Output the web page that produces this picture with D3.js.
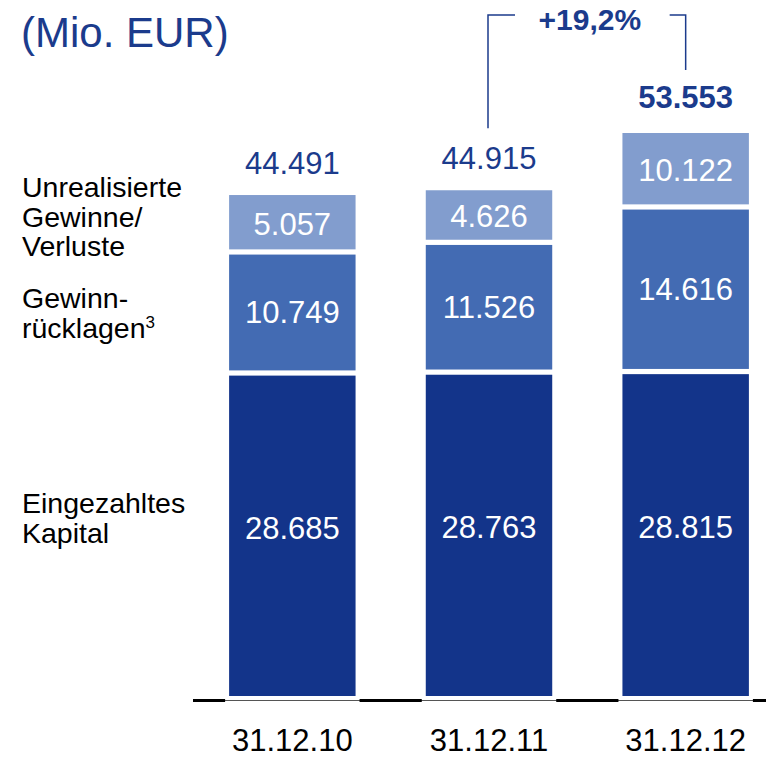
<!DOCTYPE html>
<html>
<head>
<meta charset="utf-8">
<script src="https://cdn.jsdelivr.net/npm/d3@7"></script>
<style>
  body { margin: 0; background: #fff; }
  text { font-family: "Liberation Sans", Arial, sans-serif; }
</style>
</head>
<body>
<div id="chart"></div>
<script>
// data
var dates = ["31.12.10", "31.12.11", "31.12.12"];
var eingezahlt = [28685, 28763, 28815];
var gewinnruecklagen = [10749, 11526, 14616];
var unrealisiert = [5057, 4626, 10122];
var totals = [44491, 44915, 53553];
var growthLabel = "+19,2%";
var seriesKeys = ["eingezahlt", "ruecklagen", "unrealisiert"];

function init(){

    var w = 766;
    var h = 758;
    var dark = "#13348a";
    var mid = "#436bb3";
    var light = "#829dce";
    var textBlue = "#1b3b8c";

    var rows = dates.map(function(d, i){
        return { date: d, eingezahlt: eingezahlt[i], ruecklagen: gewinnruecklagen[i], unrealisiert: unrealisiert[i], total: totals[i] };
    });

    var stack = d3.stack().keys(seriesKeys);
    var series = stack(rows);

    var x = d3.scaleBand()
              .domain(dates)
              .range([194, 784])
              .paddingInner(0.357)
              .paddingOuter(0.1785);

    // upper part of the value axis is compressed, like in the original
    var y = d3.scaleLinear()
              .domain([0, 45000, 53553])
              .range([696, 189.3, 133]);

    var color = d3.scaleOrdinal()
                  .domain(seriesKeys)
                  .range([dark, mid, light]);

    var svg = d3.select("#chart")
                .append("svg")
                .attr("width", w)
                .attr("height", h);

    // unit title
    svg.append("text")
       .attr("x", 21)
       .attr("y", 47)
       .attr("fill", textBlue)
       .style("font-size", "42px")
       .text("(Mio. EUR)");

    // baseline: thin line under bars, thick black in the gaps
    var axisY = 700.5;
    svg.append("line")
       .attr("x1", 193).attr("x2", 766)
       .attr("y1", axisY).attr("y2", axisY)
       .attr("stroke", "#555").attr("stroke-width", 1);

    var gaps = [];
    var prev = 193;
    dates.forEach(function(d){
        gaps.push([prev, x(d) - 4]);
        prev = x(d) + x.bandwidth() + 4;
    });
    gaps.push([prev, 766]);

    svg.selectAll("line.gap")
       .data(gaps)
       .enter()
       .append("line")
       .attr("class", "gap")
       .attr("x1", function(d){ return d[0]; })
       .attr("x2", function(d){ return d[1]; })
       .attr("y1", axisY).attr("y2", axisY)
       .attr("stroke", "#000").attr("stroke-width", 3);

    var inset = 2.6;

    var groups = svg.selectAll("g.series")
                    .data(series)
                    .enter()
                    .append("g")
                    .attr("class", "series")
                    .attr("fill", function(d){ return color(d.key); });

    groups.selectAll("rect")
          .data(function(d){ return d; })
          .enter()
          .append("rect")
          .attr("x", function(d){ return x(d.data.date); })
          .attr("width", x.bandwidth())
          .attr("y", function(d){
              var top = y(d[1]);
              return d[1] < d.data.total ? top + inset : top;
          })
          .attr("height", function(d){
              var top = d[1] < d.data.total ? y(d[1]) + inset : y(d[1]);
              var bottom = d[0] > 0 ? y(d[0]) - inset : y(d[0]);
              return bottom - top;
          });

    var fmt = function(v){ return d3.format(",")(v).replace(/,/g, "."); };

    groups.selectAll("text")
          .data(function(d){ return d.map(function(p){ p.key = d.key; return p; }); })
          .enter()
          .append("text")
          .attr("x", function(d){ return x(d.data.date) + x.bandwidth() / 2; })
          .attr("y", function(d){
              var c = (y(d[0]) + y(d[1])) / 2;
              return d.key == "eingezahlt" ? c + 4 : c + 11;
          })
          .attr("text-anchor", "middle")
          .attr("fill", "#fff")
          .style("font-size", "31px")
          .text(function(d){ return fmt(d[1] - d[0]); });

    // totals above bars
    svg.selectAll("text.total")
       .data(rows)
       .enter()
       .append("text")
       .attr("class", "total")
       .attr("x", function(d){ return x(d.date) + x.bandwidth() / 2; })
       .attr("y", function(d, i){ return y(d.total) - (i == 2 ? 25 : 21); })
       .attr("text-anchor", "middle")
       .attr("fill", textBlue)
       .style("font-size", "31px")
       .style("font-weight", function(d, i){ return i == 2 ? "bold" : "normal"; })
       .text(function(d){ return fmt(d.total); });

    // growth bracket between 2011 and 2012
    var bx1 = x(dates[1]) + x.bandwidth() / 2 - 1;
    var bx2 = x(dates[2]) + x.bandwidth() / 2;
    var by = 15;
    svg.append("path")
       .attr("d", "M" + bx1 + "," + (y(totals[1]) - 62) + "V" + by + "H" + (bx1 + 27))
       .attr("fill", "none").attr("stroke", textBlue).attr("stroke-width", 1.5);
    svg.append("path")
       .attr("d", "M" + (bx2 - 16) + "," + by + "H" + bx2 + "V" + (y(totals[2]) - 63))
       .attr("fill", "none").attr("stroke", textBlue).attr("stroke-width", 1.5);
    svg.append("text")
       .attr("x", (bx1 + bx2) / 2 + 3)
       .attr("y", 30)
       .attr("text-anchor", "middle")
       .attr("fill", textBlue)
       .style("font-size", "30px")
       .style("font-weight", "bold")
       .text(growthLabel);

    // category labels
    svg.selectAll("text.cat")
       .data(dates)
       .enter()
       .append("text")
       .attr("class", "cat")
       .attr("x", function(d){ return x(d) + x.bandwidth() / 2; })
       .attr("y", 751)
       .attr("text-anchor", "middle")
       .attr("fill", "#000")
       .style("font-size", "31px")
       .text(function(d){ return d; });

    // series labels on the left
    var legend = [
        { lines: ["Unrealisierte", "Gewinne/", "Verluste"], y: 197 },
        { lines: ["Gewinn-", "rücklagen"], y: 308, sup: "3" },
        { lines: ["Eingezahltes", "Kapital"], y: 513 }
    ];
    legend.forEach(function(l){
        var t = svg.append("text")
                   .attr("x", 22)
                   .attr("y", l.y)
                   .attr("fill", "#000")
                   .style("font-size", "28.5px");
        l.lines.forEach(function(s, i){
            t.append("tspan")
             .attr("x", 22)
             .attr("dy", i == 0 ? 0 : 29.5)
             .text(s);
        });
        if (l.sup) {
            t.append("tspan")
             .attr("dy", -10)
             .style("font-size", "17px")
             .text(l.sup);
        }
    });
}

window.onload = init;
</script>
</body>
</html>
